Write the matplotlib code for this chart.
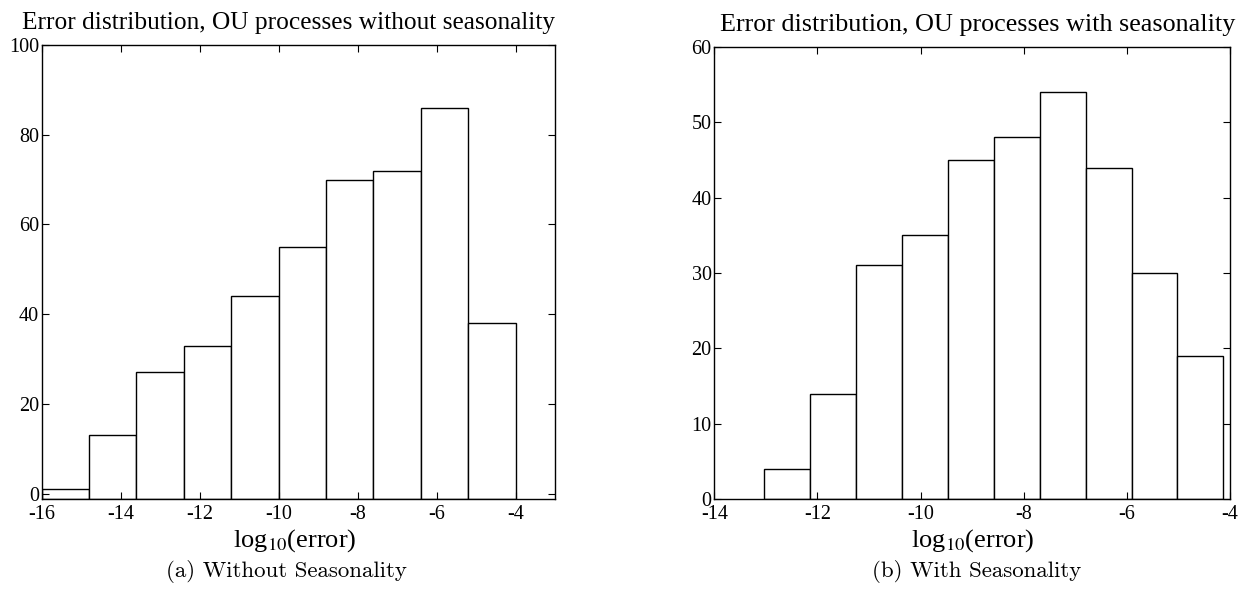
import numpy as np
import matplotlib
matplotlib.use("Agg")
import matplotlib.pyplot as plt

plt.rcParams['font.family'] = ['Liberation Serif', 'DejaVu Serif']
plt.rcParams['mathtext.fontset'] = 'stix'
plt.rcParams['axes.unicode_minus'] = False

# histogram counts, OU processes without seasonality
counts_plain = [1, 13, 27, 33, 44, 55, 70, 72, 86, 38]
edge_start_plain = -16.0
bin_width_plain = 1.2

# histogram counts, OU processes with seasonality
counts_seas = [4, 14, 31, 35, 45, 48, 54, 44, 30, 19]
edge_start_seas = -13.03
bin_width_seas = 0.89

titles = ["Error distribution, OU processes without seasonality",
          "Error distribution, OU processes with seasonality"]
captions = ["(a) Without Seasonality", "(b) With Seasonality"]
xticks_plain = [-16, -14, -12, -10, -8, -6, -4]
yticks_plain = [0, 20, 40, 60, 80, 100]
xticks_seas = [-14, -12, -10, -8, -6, -4]
yticks_seas = [0, 10, 20, 30, 40, 50, 60]

W, H = 1247, 595


def fit_width(fig, txt, target_px):
    # scale the font so the rendered string has the wanted pixel width
    r = fig.canvas.get_renderer()
    w = txt.get_window_extent(r).width
    txt.set_fontsize(txt.get_fontsize() * target_px / w)


def draw_hist(ax, counts, start, width, xlim, ylim, xticks, yticks):
    lefts = start + width * np.arange(len(counts))
    base = ylim[0]
    ax.bar(lefts, np.array(counts) - base, bottom=base, width=width,
           align='edge', facecolor='white', edgecolor='black', linewidth=1.0)
    ax.set_xlim(*xlim)
    ax.set_ylim(*ylim)
    ax.set_xticks(xticks)
    ax.set_yticks(yticks)
    ax.tick_params(direction='in', top=True, right=True, length=5,
                   width=0.8, labelsize=14.5)
    ax.tick_params(axis='x', pad=4)
    ax.tick_params(axis='y', pad=2)
    for s in ax.spines.values():
        s.set_linewidth(1.0)


fig = plt.figure(figsize=(12.47, 5.95), dpi=100)
ax1 = fig.add_axes([41.7 / W, 1 - 499 / H, (555 - 41.7) / W, (499 - 45) / H])
ax2 = fig.add_axes([714.3 / W, 1 - 499 / H, (1230 - 714.3) / W, (499 - 47) / H])

draw_hist(ax1, counts_plain, edge_start_plain, bin_width_plain,
          (-16, -3), (-1.2, 100), xticks_plain, yticks_plain)
draw_hist(ax2, counts_seas, edge_start_seas, bin_width_seas,
          (-14, -4), (0, 60), xticks_seas, yticks_seas)

# titles
t1 = fig.text(22 / W, 1 - 29 / H, titles[0], ha='left', va='baseline', fontsize=18)
t2 = fig.text(720 / W, 1 - 31 / H, titles[1], ha='left', va='baseline', fontsize=18)
fit_width(fig, t1, 533)
fit_width(fig, t2, 514)

# axis labels
for ax, cx in ((ax1, 295), (ax2, 973)):
    pos = ax.get_position()
    ax.set_xlabel(r'log$_{10}$(error)', fontsize=19, va='baseline')
    x_ax = (cx / W - pos.x0) / pos.width
    y_ax = ((1 - 547 / H) - pos.y0) / pos.height
    ax.xaxis.set_label_coords(x_ax, y_ax)

# sub-figure captions
c1 = fig.text(286 / W, 1 - 577 / H, captions[0], ha='center', va='baseline',
              fontsize=15, family='cmr10')
c2 = fig.text(977 / W, 1 - 577 / H, captions[1], ha='center', va='baseline',
              fontsize=15, family='cmr10')
fit_width(fig, c2, 210)
c1.set_fontsize(c2.get_fontsize())

fig.savefig('out.png', dpi=100)
